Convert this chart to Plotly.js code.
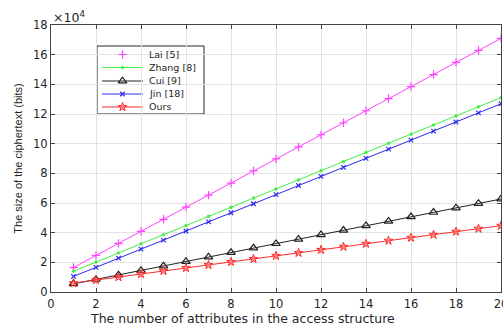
<!DOCTYPE html>
<html><head><meta charset="utf-8">
<script src="https://cdn.plot.ly/plotly-3.0.1.min.js"></script>
<style>html,body{margin:0;padding:0;background:#fff}#chart{width:503px;height:325px}</style>
</head><body><div id="chart"></div>
<script>
const attributes = [1,2,3,4,5,6,7,8,9,10,11,12,13,14,15,16,17,18,19,20];
const lai   = [16500,24600,32800,40900,49000,57200,65300,73400,81600,89700,97800,106000,114100,122200,130400,138500,146600,154800,162900,171000];
const zhang = [14000,20200,26300,32500,38600,44800,51000,57100,63300,69400,75600,81800,87900,94100,100200,106400,112600,118700,124900,131000];
const jin   = [10500,16600,22800,28900,35000,41100,47300,53400,59500,65600,71800,77900,84000,90100,96300,102400,108500,114600,120800,126900];
const cui   = [5500,8500,11500,14500,17500,20600,23600,26600,29600,32600,35600,38600,41600,44700,47700,50700,53700,56700,59700,62700];
const ours  = [6000,8000,10100,12100,14200,16200,18200,20300,22300,24400,26400,28400,30500,32500,34600,36600,38600,40700,42700,44700];
const seriesNames = ['Lai [5]','Zhang [8]','Cui [9]','Jin [18]','Ours'];
const yTickVals = [0,20000,40000,60000,80000,100000,120000,140000,160000,180000];
const yTickText = ["0","2","4","6","8","10","12","14","16","18"];
const xTickVals = [0,2,4,6,8,10,12,14,16,18,20];

const styles = [
  {color:'#ff44ff', symbol:'cross-thin-open', size:6, fill:'#ff44ff', lw:1.2},
  {color:'#44ee44', symbol:'circle', size:2.5, fill:'#44ee44', lw:1},
  {color:'#222222', symbol:'triangle-up-open', size:7.5, fill:'#222222', lw:1.2},
  {color:'#2a2aee', symbol:'x-thin-open', size:4.5, fill:'#2a2aee', lw:1.2},
  {color:'#ff2a2a', symbol:'star', size:6.5, fill:'rgba(255,110,110,0.55)', lw:1}
];
const seriesValues = [lai, zhang, cui, jin, ours];

const W = 503, H = 325, ML = 51, MR = 2, MT = 25, MB = 33;
const PW = W - ML - MR, PH = H - MT - MB;
const px2x = p => (p - ML) / PW;
const py2y = p => (H - MB - p) / PH;

function mk(s){ return {symbol:s.symbol, size:s.size, color:s.fill, line:{color:s.color, width:s.lw}}; }

const data = seriesValues.map((v, i) => ({
  x: attributes, y: v, name: seriesNames[i], type:'scatter', mode:'lines+markers',
  line:{color: styles[i].color, width:1},
  marker: mk(styles[i]),
  showlegend:false
}));

// compact MATLAB-style legend
const legBox = {x0:97, x1:204, y0:46, y1:114};
const legRows = [54.5, 67.5, 81, 94, 107];
const sampleX0 = 102, sampleX1 = 143, sampleXm = 122.5, textX = 147;
const shapes = [{type:'rect', xref:'paper', yref:'paper', layer:'between',
  x0:px2x(legBox.x0), x1:px2x(legBox.x1), y0:py2y(legBox.y1), y1:py2y(legBox.y0),
  fillcolor:'#ffffff', line:{color:'#262626', width:1}}];
const annotations = [
  {xref:'paper', yref:'paper', x:0, y:1, xanchor:'left', yanchor:'bottom', showarrow:false,
    text:'×10<sup>4</sup>', font:{family:'DejaVu Sans, sans-serif', size:12.5, color:'#262626'}, yshift:-2},
  {xref:'paper', yref:'paper', x:px2x(242.5), y:py2y(318.5), xanchor:'center', yanchor:'middle', showarrow:false,
    text:'The number of attributes in the access structure', font:{family:'DejaVu Sans, sans-serif', size:12.5, color:'#262626'}}
];
seriesNames.forEach((n, i) => {
  shapes.push({type:'line', xref:'paper', yref:'paper', layer:'between',
    x0:px2x(sampleX0), x1:px2x(sampleX1), y0:py2y(legRows[i]), y1:py2y(legRows[i]),
    line:{color: styles[i].color, width:1}});
  annotations.push({xref:'paper', yref:'paper', x:px2x(textX), y:py2y(legRows[i]), xanchor:'left', yanchor:'middle',
    showarrow:false, text:n, font:{family:'DejaVu Sans, sans-serif', size:9.5, color:'#262626'}});
  data.push({x:[px2x(sampleXm)], y:[py2y(legRows[i])], xaxis:'x2', yaxis:'y2', type:'scatter', mode:'markers',
    marker: mk(styles[i]), showlegend:false, hoverinfo:'skip'});
});

const tickFont = {family:'DejaVu Sans, sans-serif', size:11.5, color:'#262626'};
const layout = {
  width:W, height:H,
  margin:{l:ML, r:MR, t:MT, b:MB},
  paper_bgcolor:'#fff', plot_bgcolor:'#fff',
  showlegend:false,
  font:{family:'Liberation Sans, Arial, sans-serif', size:11, color:'#262626'},
  xaxis:{range:[0,20], tickvals:xTickVals, ticks:'inside', ticklen:4, tickcolor:'#444',
    showgrid:true, gridcolor:'#e3e3e3', gridwidth:1, zeroline:false,
    showline:true, linecolor:'#444', linewidth:1, mirror:'ticks',
    tickfont:tickFont, ticklabeloverflow:'allow', ticklabelstandoff:1},
  yaxis:{range:[0,180000], tickvals:yTickVals, ticktext:yTickText, ticks:'inside', ticklen:4, tickcolor:'#444',
    showgrid:true, gridcolor:'#e3e3e3', gridwidth:1, zeroline:false,
    showline:true, linecolor:'#444', linewidth:1, mirror:'ticks',
    tickfont:tickFont,
    title:{text:'The size of the ciphertext (bits)', font:{family:'Liberation Sans, Arial, sans-serif', size:11, color:'#262626'}, standoff:8}},
  xaxis2:{overlaying:'x', range:[0,1], visible:false, fixedrange:true},
  yaxis2:{overlaying:'y', range:[0,1], visible:false, fixedrange:true},
  shapes: shapes,
  annotations: annotations
};
Plotly.newPlot('chart', data, layout, {displayModeBar:false, staticPlot:true});
</script></body></html>
